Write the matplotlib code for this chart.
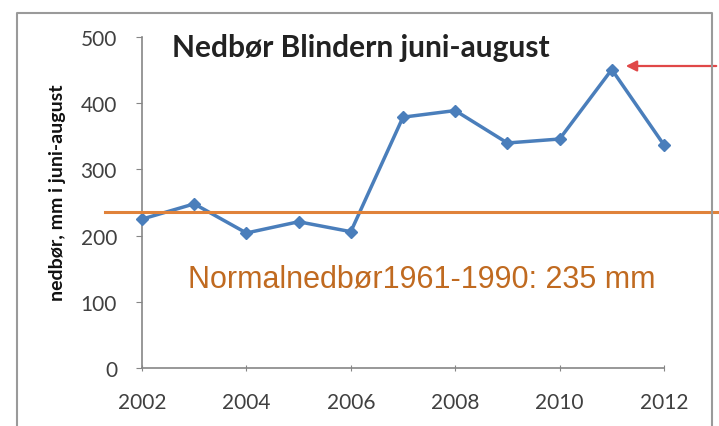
import matplotlib.pyplot as plt
from matplotlib.patches import FancyArrowPatch
from matplotlib.lines import Line2D

# ----------------------------
# Data
# ----------------------------
years = [2002, 2003, 2004, 2005, 2006, 2007, 2008, 2009, 2010, 2011, 2012]
nedbor = [225, 248, 204, 221, 206, 379, 389, 340, 346, 451, 337]
normal = 235
x_ticks = [2002, 2004, 2006, 2008, 2010, 2012]
y_ticks = [0, 100, 200, 300, 400, 500]

BLUE = "#4a7ebb"
ORANGE = "#e0823a"
TEXT_ORANGE = "#c06a20"
GRAY = "#404040"

fig = plt.figure(figsize=(7.19, 4.27), dpi=100)
ax = fig.add_axes([0.1975, 0.1358, 0.726, 0.775])

ax.plot(years, nedbor, color=BLUE, lw=2.5, marker="D", markersize=6, zorder=3, clip_on=False)

ax.set_xlim(2002, 2012)
ax.set_ylim(0, 500)
ax.set_xticks(x_ticks)
ax.set_yticks(y_ticks)
ax.tick_params(axis="both", colors="#868686", labelcolor=GRAY, labelsize=15, length=4)
ax.tick_params(axis="x", direction="inout", pad=15)
ax.tick_params(axis="y", direction="out", pad=14)
for s in ["top", "right"]:
    ax.spines[s].set_visible(False)
for s in ["left", "bottom"]:
    ax.spines[s].set_color("#868686")
    ax.spines[s].set_linewidth(1.2)
for lbl in ax.get_xticklabels() + ax.get_yticklabels():
    lbl.set_family("Lato")

# y label placed in figure coords
fig.text(57 / 719, 1 - 193 / 427, "nedbør, mm i juni-august", rotation=90, fontsize=14,
         fontweight="bold", family="Lato", ha="center", va="center", color="#111111")

# normal line, drawn across the figure past the axes
y_fig = ax.transData.transform((2002, normal))[1] / fig.bbox.height
fig.add_artist(Line2D([105 / 719, 1.0], [y_fig, y_fig], color=ORANGE, lw=2.2, zorder=2))

fig.text(188 / 719, 1 - 280 / 427, "Normalnedbør1961-1990: 235 mm", color=TEXT_ORANGE,
         fontsize=22, family="Liberation Sans", va="center")

# title
fig.text(172 / 719, 1 - 48 / 427, "Nedbør Blindern juni-august", fontsize=21.5, fontweight="bold",
         family="Lato", color="#222222", va="center")

# red arrow pointing at 2011
x0, y0 = ax.transData.transform((2011, 451))
arrow = FancyArrowPatch((1.0, 1 - 67 / 427), (623 / 719, 1 - 67 / 427),
                        transform=fig.transFigure, arrowstyle="-|>", mutation_scale=16,
                        color="#e04848", lw=1.6)
fig.add_artist(arrow)

# outer chart frame
fig.add_artist(Line2D([17 / 719, 17 / 719, 712 / 719, 712 / 719],
                      [0, 1 - 14 / 427, 1 - 14 / 427, 0], color="#9a9a9a", lw=1.5))

plt.savefig("out.png", dpi=100)
